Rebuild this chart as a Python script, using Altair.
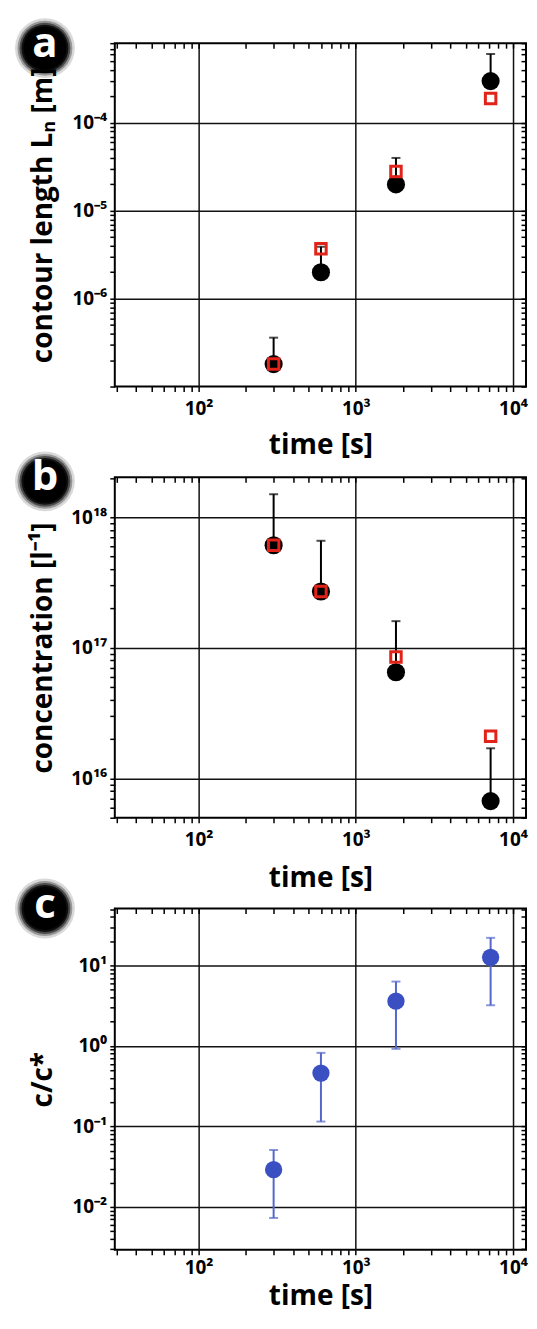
import math
import altair as alt
import pandas as pd

# ---------------- data ----------------
times = [300, 600, 1800, 7200]

# panel a: contour length L_n [m]
contour_mean = [1.8e-7, 2.0e-6, 2.0e-5, 3.0e-4]
contour_upper = [3.6e-7, 3.9e-6, 4.0e-5, 6.1e-4]
contour_red = [1.8e-7, 3.7e-6, 2.8e-5, 1.9e-4]

# panel b: concentration [l^-1]
conc_mean = [6.1e17, 2.7e17, 6.5e16, 6.7e15]
conc_upper = [1.5e18, 6.6e17, 1.6e17, 1.7e16]
conc_red = [6.1e17, 2.7e17, 8.5e16, 2.1e16]

# panel c: c/c*
ratio_mean = [0.029, 0.46, 3.6, 12.6]
ratio_lower = [0.0073, 0.115, 0.92, 3.2]
ratio_upper = [0.051, 0.82, 6.3, 22.0]

# axes
x_domain = [29.3, 12090]
x_major = [100.0, 1000.0, 10000.0]
x_major_labels = ["10²", "10³", "10⁴"]

a_domain = [1e-7, 8.1e-4]
a_major = [1e-6, 1e-5, 1e-4]
a_major_labels = ["10⁻⁶", "10⁻⁵", "10⁻⁴"]

b_domain = [5.0e15, 2.02e18]
b_major = [1e16, 1e17, 1e18]
b_major_labels = ["10¹⁶", "10¹⁷", "10¹⁸"]

c_domain = [0.00293, 50.9]
c_major = [0.01, 0.1, 1.0, 10.0]
c_major_labels = ["10⁻²", "10⁻¹", "10⁰", "10¹"]

panel_letters = ["a", "b", "c"]

FONT = "Open Sans"
BLACK = "#000000"
RED = "#e2231a"
BLUE = "#3a50c2"
BLUE_BAR = "#5468cc"
PLOT_W = 412


def log_ticks(dom):
    lo, hi = dom
    out = []
    e = math.floor(math.log10(lo))
    while float(f"1e{e}") <= hi * 1.0000001:
        for m in range(1, 10):
            v = float(f"{m}e{e}")
            if lo <= v <= hi:
                out.append(v)
        e += 1
    return out


def label_expr(values, labels):
    expr = "''"
    for v, l in reversed(list(zip(values, labels))):
        expr = f"datum.value == {v!r} ? '{l}' : {expr}"
    return expr


def major_test(values):
    return "indexof([" + ",".join(repr(v) for v in values) + "], datum.value) >= 0"


def base_axes(y_dom, y_major, y_labels, y_title, x_title_pad, y_title_pad, x_label_pad):
    x_all = log_ticks(x_domain)
    y_all = log_ticks(y_dom)
    x_main = alt.Axis(
        orient="bottom", values=x_all, labelExpr=label_expr(x_major, x_major_labels),
        grid=True, gridOpacity={"condition": {"test": major_test(x_major), "value": 1}, "value": 0},
        tickSize=5, labelPadding=x_label_pad, labelFlush=False, labelOverlap=False,
        title="time [s]", titlePadding=x_title_pad,
    )
    y_main = alt.Axis(
        orient="left", values=y_all, labelExpr=label_expr(y_major, y_labels),
        grid=True, gridOpacity={"condition": {"test": major_test(y_major), "value": 1}, "value": 0},
        tickSize=5, labelPadding=3, labelFlush=False, labelOverlap=False, labelBaseline="middle",
        title=y_title, titlePadding=y_title_pad,
    )
    x_top = alt.Axis(orient="top", values=x_all, labels=False, grid=False, tickSize=5,
                     offset=-5, title=None, domain=False)
    y_right = alt.Axis(orient="right", values=y_all, labels=False, grid=False, tickSize=5,
                       offset=-5, title=None, domain=False)
    return x_main, y_main, x_top, y_right


def letter_layers(letter, cy):
    d = pd.DataFrame({"letter": [letter]})
    layers = []
    for r, op in [(30, 0.15), (27.5, 0.3), (25.5, 0.5), (23.5, 0.8), (21.5, 1.0)]:
        layers.append(
            alt.Chart(d).mark_circle(color="black", opacity=op, size=(2 * r) ** 2)
            .encode(x=alt.value(-70), y=alt.value(cy))
        )
    layers.append(
        alt.Chart(d).mark_text(color="white", font=FONT, fontWeight="bold", fontSize=42,
                               baseline="middle", align="center", dy=-4)
        .encode(x=alt.value(-70), y=alt.value(cy), text="letter:N")
    )
    return layers


def panel_ab(mean, upper, red, y_dom, y_major, y_labels, y_title, letter, cy, height,
             x_title_pad, y_title_pad, x_label_pad):
    df = pd.DataFrame({"t": times, "mean": mean, "upper": upper, "red": red})
    xs = alt.Scale(type="log", domain=x_domain, nice=False)
    ys = alt.Scale(type="log", domain=y_dom, nice=False)
    x_main, y_main, x_top, y_right = base_axes(y_dom, y_major, y_labels, y_title,
                                               x_title_pad, y_title_pad, x_label_pad)
    base = alt.Chart(df)
    circles = base.mark_circle(color=BLACK, opacity=1, size=330).encode(
        x=alt.X("t:Q", scale=xs, axis=x_main),
        y=alt.Y("mean:Q", scale=ys, axis=y_main),
    )
    bars = base.mark_rule(color=BLACK, strokeWidth=2).encode(
        x=alt.X("t:Q", scale=xs, axis=None),
        y=alt.Y("mean:Q", scale=ys, axis=None),
        y2="upper:Q",
    )
    caps = base.mark_tick(color=BLACK, orient="horizontal", size=9, thickness=2).encode(
        x=alt.X("t:Q", scale=xs, axis=None),
        y=alt.Y("upper:Q", scale=ys, axis=None),
    )
    squares = base.mark_point(shape="square", filled=False, color=RED, strokeWidth=3,
                              size=110, opacity=1).encode(
        x=alt.X("t:Q", scale=xs, axis=x_top),
        y=alt.Y("red:Q", scale=ys, axis=y_right),
    )
    layers = [circles, bars, caps, squares] + letter_layers(letter, cy)
    return alt.layer(*layers).resolve_axis(x="independent", y="independent").properties(
        width=PLOT_W, height=height)


def panel_c(letter, cy, height, x_title_pad, y_title_pad, x_label_pad):
    df = pd.DataFrame({"t": times, "mean": ratio_mean, "lower": ratio_lower, "upper": ratio_upper})
    xs = alt.Scale(type="log", domain=x_domain, nice=False)
    ys = alt.Scale(type="log", domain=c_domain, nice=False)
    x_main, y_main, x_top, y_right = base_axes(c_domain, c_major, c_major_labels, "c/c*",
                                               x_title_pad, y_title_pad, x_label_pad)
    base = alt.Chart(df)
    bars = base.mark_rule(color=BLUE_BAR, strokeWidth=2).encode(
        x=alt.X("t:Q", scale=xs, axis=x_main),
        y=alt.Y("lower:Q", scale=ys, axis=y_main),
        y2="upper:Q",
    )
    cap_hi = base.mark_tick(color=BLUE_BAR, orient="horizontal", size=9, thickness=2).encode(
        x=alt.X("t:Q", scale=xs, axis=None),
        y=alt.Y("upper:Q", scale=ys, axis=None),
    )
    cap_lo = base.mark_tick(color=BLUE_BAR, orient="horizontal", size=9, thickness=2).encode(
        x=alt.X("t:Q", scale=xs, axis=None),
        y=alt.Y("lower:Q", scale=ys, axis=None),
    )
    dots = base.mark_circle(color=BLUE, opacity=1, size=300).encode(
        x=alt.X("t:Q", scale=xs, axis=x_top),
        y=alt.Y("mean:Q", scale=ys, axis=y_right),
    )
    layers = [bars, cap_hi, cap_lo, dots] + letter_layers(letter, cy)
    return alt.layer(*layers).resolve_axis(x="independent", y="independent").properties(
        width=PLOT_W, height=height)


pa = panel_ab(contour_mean, contour_upper, contour_red, a_domain, a_major, a_major_labels,
              "contour length Lₙ [m]", panel_letters[0], 5, 344, 13, 14, 8)
pb = panel_ab(conc_mean, conc_upper, conc_red, b_domain, b_major, b_major_labels,
              "concentration [l⁻¹]", panel_letters[1], 4, 341, 15, 13, 8)
pc = panel_c(panel_letters[2], 0, 342, 5, 14, 4)

chart = alt.vconcat(pa, pb, pc, spacing=91, bounds="flush").properties(
    padding={"left": 6, "top": 8, "right": 0, "bottom": 0},
    background="white",
).configure_view(
    stroke="black", strokeWidth=2
).configure_axis(
    labelFont=FONT, labelFontWeight="bold", labelFontSize=19, labelColor="black",
    titleFont=FONT, titleFontWeight="bold", titleFontSize=28, titleColor="black",
    tickColor="black", tickWidth=1.5, gridColor="#111111", gridWidth=1.5, domain=False,
)

chart.save("out.html", embed_options={"renderer": "svg", "actions": False})
